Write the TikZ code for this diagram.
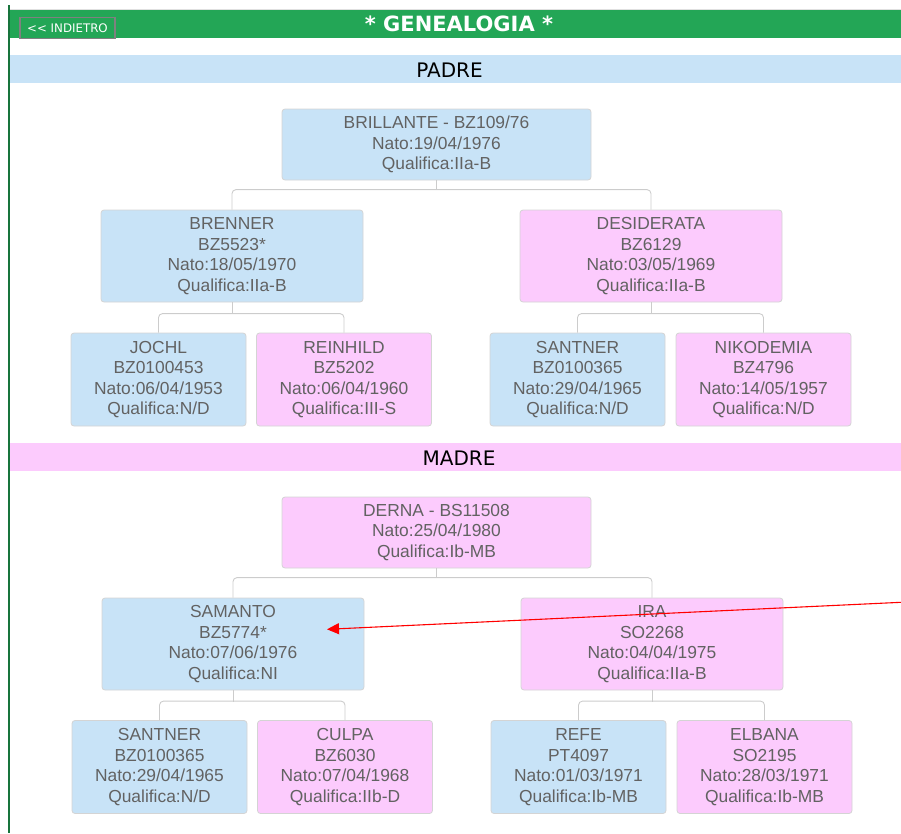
\documentclass[tikz,border=0pt]{standalone}
\usepackage{fontspec}
\usepackage{tikz}
\setmainfont{Liberation Sans}
\newfontfamily\verdana{DejaVu Sans}
\usetikzlibrary{arrows.meta, positioning}
\definecolor{barverde}{HTML}{23A656}
\definecolor{celeste}{HTML}{C8E3F7}
\definecolor{rosa}{HTML}{FCCBFD}
\definecolor{bordo}{HTML}{D4D4D4}
\definecolor{testo}{HTML}{626262}
\definecolor{linea}{HTML}{CCCCCC}
\tikzset{
  person/.style={rectangle, rounded corners=3pt, draw=bordo, line width=0.8pt, text=testo, align=center, inner sep=0pt, font=\fontsize{17.4}{20.5}\selectfont, execute at begin node={\rule{0pt}{16pt}}},
  root/.style={person, minimum width=309pt, minimum height=71pt},
  parent/.style={person, minimum width=262pt, minimum height=92pt},
  grand/.style={person, minimum width=175pt, minimum height=93pt},
  link/.style={draw=linea, line width=0.9pt, rounded corners=4pt},
  pointer/.style={red, line width=1.1pt, -{Triangle[length=12pt, width=11pt]}}
}

\begin{document}
\begin{tikzpicture}[x=1pt, y=-1pt]
\useasboundingbox (0,0) rectangle (901,833);

% Header
\draw [linea!60, line width=0.6pt] (9,9) -- (901,9);
\fill [barverde] (9,10) rectangle (901,38);
\draw [barverde!70!black, line width=1.2pt] (9,5) -- (9,833);
\node (back) [draw=gray, line width=1.2pt, fill=barverde, text=white, minimum width=95pt, minimum height=21pt, inner sep=0pt, font=\verdana\fontsize{11.8}{12}\selectfont] at (67.5,28) {<< INDIETRO};
\node (title) [text=white, font=\verdana\bfseries\fontsize{21}{24}\selectfont] at (459,24) {* GENEALOGIA *};

% Bands
\fill [celeste] (9.6,55) rectangle (901,83);
\node (padre) [font=\verdana\fontsize{20}{24}\selectfont] at (449.5,70) {PADRE};
\fill [rosa] (9.6,443) rectangle (901,471);
\node (madre) [font=\verdana\fontsize{20}{24}\selectfont] at (459,458) {MADRE};

% Padre
\node (brillante) [root, fill=celeste] at (436.5,144.5) {BRILLANTE - BZ109/76\\Nato:19/04/1976\\Qualifica:IIa-B};
\node (brenner) [parent, fill=celeste] at (232,256) {BRENNER\\BZ5523*\\Nato:18/05/1970\\Qualifica:IIa-B};
\node (desiderata) [parent, fill=rosa] at (651,256) {DESIDERATA\\BZ6129\\Nato:03/05/1969\\Qualifica:IIa-B};
\node (jochl) [grand, fill=celeste] at (158.5,379.5) {JOCHL\\BZ0100453\\Nato:06/04/1953\\Qualifica:N/D};
\node (reinhild) [grand, fill=rosa] at (344,379.5) {REINHILD\\BZ5202\\Nato:06/04/1960\\Qualifica:III-S};
\node (santnerp) [grand, fill=celeste] at (577.5,379.5) {SANTNER\\BZ0100365\\Nato:29/04/1965\\Qualifica:N/D};
\node (nikodemia) [grand, fill=rosa] at (763.5,379.5) {NIKODEMIA\\BZ4796\\Nato:14/05/1957\\Qualifica:N/D};

% Madre
\node (derna) [root, fill=rosa] at (436.5,532.5) {DERNA - BS11508\\Nato:25/04/1980\\Qualifica:Ib-MB};
\node (samanto) [parent, fill=celeste] at (233,644) {SAMANTO\\BZ5774*\\Nato:07/06/1976\\Qualifica:NI};
\node (ira) [parent, fill=rosa] at (652,644) {IRA\\SO2268\\Nato:04/04/1975\\Qualifica:IIa-B};
\node (santnerm) [grand, fill=celeste] at (159.5,767) {SANTNER\\BZ0100365\\Nato:29/04/1965\\Qualifica:N/D};
\node (culpa) [grand, fill=rosa] at (345,767) {CULPA\\BZ6030\\Nato:07/04/1968\\Qualifica:IIb-D};
\node (refe) [grand, fill=celeste] at (578.5,767) {REFE\\PT4097\\Nato:01/03/1971\\Qualifica:Ib-MB};
\node (elbana) [grand, fill=rosa] at (764.5,767) {ELBANA\\SO2195\\Nato:28/03/1971\\Qualifica:Ib-MB};

% Links
\draw [link] (brillante.south) -- ++(0,10);
\draw [link] (brenner.north) -- ++(0,-20) -| (desiderata.north);
\draw [link] (brenner.south) -- ++(0,12);
\draw [link] (jochl.north) -- ++(0,-19) -| (reinhild.north);
\draw [link] (desiderata.south) -- ++(0,12);
\draw [link] (santnerp.north) -- ++(0,-19) -| (nikodemia.north);
\draw [link] (derna.south) -- ++(0,10);
\draw [link] (samanto.north) -- ++(0,-20) -| (ira.north);
\draw [link] (samanto.south) -- ++(0,12);
\draw [link] (santnerm.north) -- ++(0,-19) -| (culpa.north);
\draw [link] (ira.south) -- ++(0,12);
\draw [link] (refe.north) -- ++(0,-19) -| (elbana.north);

% Arrow
\coordinate (arrowstart) at (901,602.3);
\coordinate (arrowtip) at (327,629.3);
\draw [pointer] (arrowstart) -- (arrowtip);

\end{tikzpicture}
\end{document}
